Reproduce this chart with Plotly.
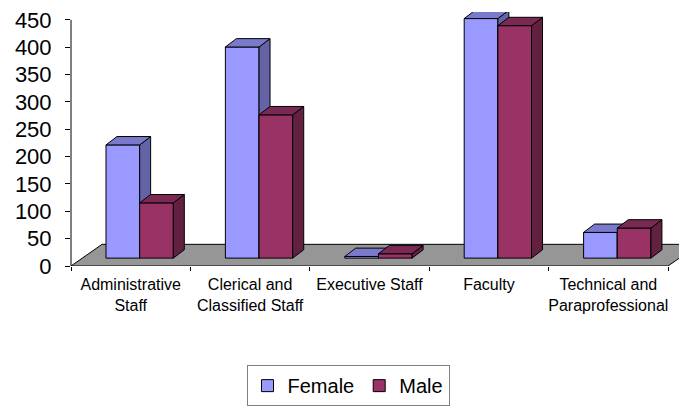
import plotly.graph_objects as go

# ---- data ----
categories = ["Administrative<br>Staff", "Clerical and<br>Classified Staff", "Executive Staff",
              "Faculty", "Technical and<br>Paraprofessional"]
female = [207, 386, 3, 438, 47]
male = [101, 262, 8, 425, 55]
y_ticks = [0, 50, 100, 150, 200, 250, 300, 350, 400, 450]

# ---- 3D look constants (style) ----
FONT = "Liberation Sans, Arial, sans-serif"
BAR_W = 0.282          # width of a front face, in category units
FRONT_SHIFT = 0.075    # front faces sit part-way into the floor depth
BASE = 14.4            # value offset of the bar bottoms (depth position)
DX, DY = 0.092, 15.3   # bar depth (x in category units, y in value units)
FDX, FDY = 0.26, 39.6  # floor depth
X_RANGE = [-0.5, 4.659]
Y_RANGE = [0, 464.4]

F_FRONT, F_TOP, F_SIDE = "#9999FF", "#7A7ACC", "#6363A6"
M_FRONT, M_TOP, M_SIDE = "#993366", "#7A2952", "#632142"

n = len(categories)
idx = list(range(n))
f_x = [i + FRONT_SHIFT - BAR_W / 2 for i in idx]
m_x = [i + FRONT_SHIFT + BAR_W / 2 for i in idx]

fig = go.Figure()


def faces(xc, vals, top_col, side_col, xa, ya):
    for c, v in zip(xc, vals):
        xl, xr, yt = c - BAR_W / 2, c + BAR_W / 2, BASE + v
        fig.add_trace(go.Scatter(
            x=[xr, xr, xr + DX, xr + DX, xr], y=[BASE, yt, yt + DY, BASE + DY, BASE],
            fill="toself", fillcolor=side_col, mode="lines",
            line=dict(color="black", width=1), showlegend=False, hoverinfo="skip",
            xaxis=xa, yaxis=ya))
        fig.add_trace(go.Scatter(
            x=[xl, xr, xr + DX, xl + DX, xl], y=[yt, yt, yt + DY, yt + DY, yt],
            fill="toself", fillcolor=top_col, mode="lines",
            line=dict(color="black", width=1), showlegend=False, hoverinfo="skip",
            xaxis=xa, yaxis=ya))


# Female (subplot x/y)
fig.add_trace(go.Bar(x=f_x, y=female, base=[BASE] * n, width=BAR_W, name="Female",
                     marker=dict(color=F_FRONT, line=dict(color="black", width=1)),
                     xaxis="x", yaxis="y"))
faces(f_x, female, F_TOP, F_SIDE, "x", "y")

# Male (overlay subplot x2/y2, drawn above the female bars)
fig.add_trace(go.Bar(x=m_x, y=male, base=[BASE] * n, width=BAR_W, name="Male",
                     marker=dict(color=M_FRONT, line=dict(color="black", width=1)),
                     xaxis="x2", yaxis="y2"))
faces(m_x, male, M_TOP, M_SIDE, "x2", "y2")

# Floor
x0, x1 = -0.5, n - 0.5
floor_path = (f"M {x0},0 L {x1},0 L {x1 + FDX},{FDY} L {x0 + FDX},{FDY} Z")
fig.add_shape(type="path", path=floor_path, xref="x", yref="y", layer="below",
              fillcolor="#969696", line=dict(color="black", width=1))
# Value axis line
fig.add_shape(type="line", xref="paper", yref="y", x0=0, x1=0, y0=0, y1=y_ticks[-1],
              line=dict(color="black", width=1), layer="above")

bounds = [i - 0.5 for i in range(n + 1)]

# The page body has an 8px default margin, so the figure is 8px smaller.
fig.update_layout(
    width=679, height=403,
    margin=dict(l=63, r=0, t=0, b=145),
    paper_bgcolor="white", plot_bgcolor="white",
    hovermode=False,
    font=dict(family=FONT, color="black"),
    xaxis=dict(range=X_RANGE, tickvals=bounds, showticklabels=False, ticks="outside",
               ticklen=4, tickcolor="black", showgrid=False, zeroline=False, showline=False),
    xaxis2=dict(range=X_RANGE, overlaying="x", anchor="y", side="bottom",
                tickvals=idx, ticktext=categories, ticks="", showgrid=False,
                zeroline=False, showline=False, ticklabelstandoff=7,
                tickfont=dict(size=16, family=FONT, color="black")),
    yaxis=dict(range=Y_RANGE, tickvals=y_ticks, ticks="outside", ticklen=5,
               tickcolor="black", showgrid=False, zeroline=False, showline=False,
               ticklabelstandoff=9, ticklabeloverflow="allow",
               tickfont=dict(size=22, family=FONT, color="black")),
    yaxis2=dict(range=Y_RANGE, overlaying="y", visible=False),
    showlegend=True,
    legend=dict(orientation="h", x=0.4497, xanchor="center", y=-0.3903, yanchor="top",
                bordercolor="#808080", borderwidth=1, bgcolor="white",
                font=dict(size=20, family=FONT, color="black"), itemclick=False,
                traceorder="normal"),
)

fig.write_html("out.html")
